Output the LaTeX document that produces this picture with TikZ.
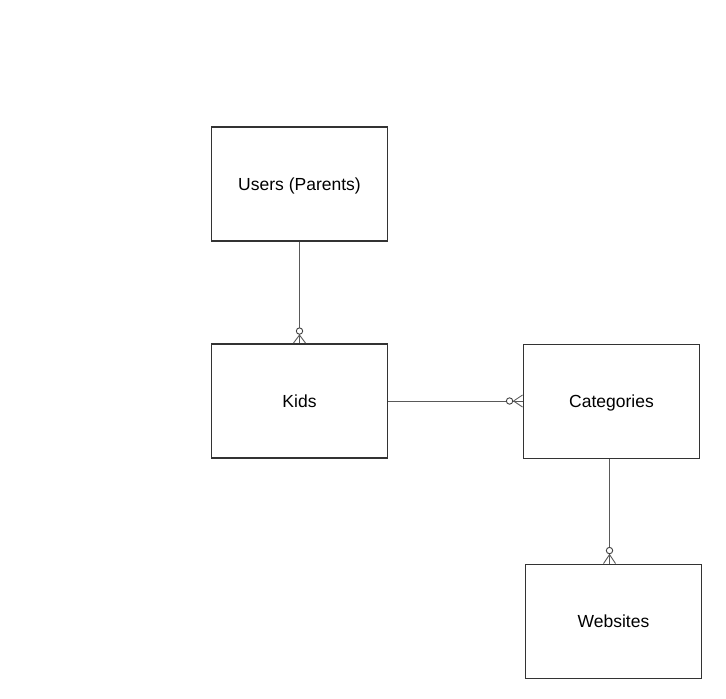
\documentclass[tikz,border=0pt]{standalone}
\usepackage{fontspec}
\setmainfont{Liberation Sans}
\usetikzlibrary{calc}
\begin{document}
\begin{tikzpicture}[x=1pt,y=-1pt,
  entity/.style={draw=black!80,line width=1.9pt,minimum width=176pt,minimum height=114pt,
    inner sep=0pt,text depth=-2pt,font=\fontsize{17.5}{20}\selectfont},
  rel/.style={draw=black!65,line width=0.9pt},
  ring/.style={draw=black!75,line width=0.9pt,fill=white}]
\useasboundingbox (0,0) rectangle (726,699);
\node[entity] (users) at (299.5,184) {Users (Parents)};
\node[entity] (kids) at (299.5,401) {Kids};
\node[entity] (cats) at (611.5,401.5) {Categories};
\node[entity] (webs) at (613.5,621.5) {Websites};

% Users -> Kids (zero or many)
\draw[rel] (users.south) -- (kids.north);
\draw[rel] ($(kids.north)+(0,-8)$) -- ($(kids.north)+(-6,0)$)
           ($(kids.north)+(0,-8)$) -- ($(kids.north)+(6,0)$);
\draw[ring] ($(kids.north)+(0,-12)$) circle (3.2);

% Kids -> Categories (zero or many)
\draw[rel] (kids.east) -- (kids.east -| cats.west);
\coordinate (kc) at (kids.east -| cats.west);
\draw[rel] ($(kc)+(-9,0)$) -- ($(kc)+(0,-6)$)
           ($(kc)+(-9,0)$) -- ($(kc)+(0,6)$);
\draw[ring] ($(kc)+(-13,0)$) circle (3.2);

% Categories -> Websites (zero or many)
\coordinate (cw) at ($(cats.south)+(-2,0)$);
\coordinate (wc) at ($(webs.north)+(-4,0)$);
\draw[rel] (cw) -- (wc);
\draw[rel] ($(wc)+(0,-9)$) -- ($(wc)+(-6,0)$)
           ($(wc)+(0,-9)$) -- ($(wc)+(6,0)$);
\draw[ring] ($(wc)+(0,-13)$) circle (3.2);
\end{tikzpicture}
\end{document}
